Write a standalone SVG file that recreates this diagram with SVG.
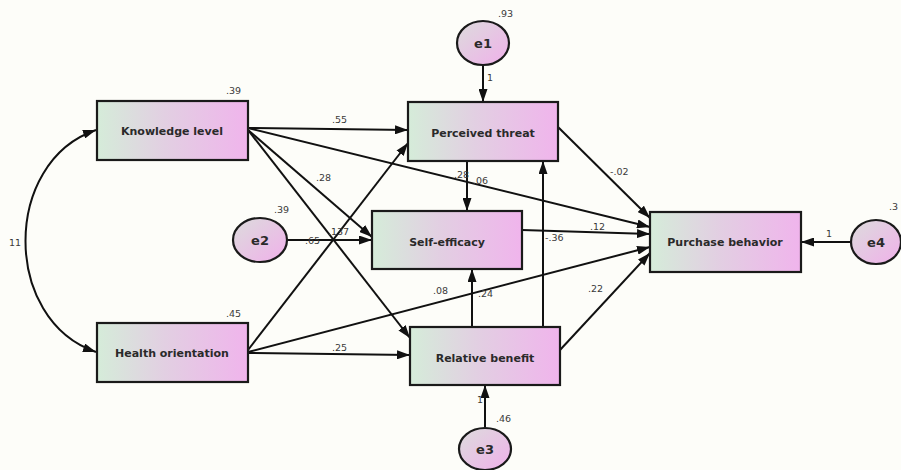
<svg xmlns="http://www.w3.org/2000/svg" width="901" height="470" viewBox="0 0 901 470">
<defs>
<linearGradient id="gBox" x1="0" y1="0" x2="1" y2="0">
<stop offset="0" stop-color="#d5ecd9"/>
<stop offset="0.45" stop-color="#e2cfe2"/>
<stop offset="1" stop-color="#f0b4ec"/>
</linearGradient>
<linearGradient id="gEll" x1="0" y1="0" x2="1" y2="1">
<stop offset="0" stop-color="#dcdcdc"/>
<stop offset="1" stop-color="#f0b0ea"/>
</linearGradient>
<marker id="ah" viewBox="0 0 13 9" refX="13" refY="4.5" markerWidth="13" markerHeight="9" markerUnits="userSpaceOnUse" orient="auto-start-reverse">
<path d="M0,0 L13,4.5 L0,9 Z" fill="#111"/>
</marker>
</defs>
<style>
.box{fill:url(#gBox);stroke:#1a1a1a;stroke-width:2.2}
.ell{fill:url(#gEll);stroke:#1a1a1a;stroke-width:2.2}
.nt{font-family:"DejaVu Sans",sans-serif;font-weight:bold;font-size:11px;fill:#2a2a2a;text-anchor:middle}
.et{font-family:"DejaVu Sans",sans-serif;font-weight:bold;font-size:13px;fill:#2a2a2a;text-anchor:middle}
.lb{font-family:"DejaVu Sans",sans-serif;font-size:9.5px;fill:#3a3a3a}
.c{fill:none;stroke:#111;stroke-width:2;marker-end:url(#ah)}
</style>
<rect width="901" height="470" fill="#fdfdf9"/>
<g id="connectors">
<path class="c" d="M96,130 C2,162 2,320 96,352" marker-start="url(#ah)"/>
<line class="c" x1="248" y1="128" x2="408" y2="130"/>
<line class="c" x1="248" y1="128" x2="650" y2="227"/>
<line class="c" x1="248" y1="130" x2="372" y2="237"/>
<line class="c" x1="248" y1="130" x2="410" y2="338"/>
<line class="c" x1="248" y1="350" x2="408" y2="143"/>
<line class="c" x1="248" y1="352" x2="650" y2="247"/>
<line class="c" x1="248" y1="353" x2="410" y2="355"/>
<line class="c" x1="287" y1="240" x2="372" y2="240"/>
<line class="c" x1="483" y1="65" x2="483" y2="102"/>
<line class="c" x1="467" y1="161" x2="467" y2="211"/>
<line class="c" x1="472" y1="327" x2="472" y2="269"/>
<line class="c" x1="543" y1="327" x2="543" y2="161"/>
<line class="c" x1="485" y1="427" x2="485" y2="385"/>
<line class="c" x1="558" y1="127" x2="650" y2="218"/>
<line class="c" x1="522" y1="230" x2="650" y2="234"/>
<line class="c" x1="560" y1="350" x2="650" y2="253"/>
<line class="c" x1="850" y1="242" x2="801" y2="242"/>
</g>
<g id="knowledge">
<rect class="box" x="97" y="101" width="151" height="59"/>
<text class="nt" x="172" y="135">Knowledge level</text>
<text class="lb" x="226" y="94">.39</text>
</g>
<g id="health">
<rect class="box" x="97" y="323" width="151" height="59"/>
<text class="nt" x="172" y="357">Health orientation</text>
<text class="lb" x="226" y="317">.45</text>
</g>
<g id="threat">
<rect class="box" x="408" y="102" width="150" height="59"/>
<text class="nt" x="483" y="137">Perceived threat</text>
</g>
<g id="efficacy">
<rect class="box" x="372" y="211" width="150" height="58"/>
<text class="nt" x="447" y="246">Self-efficacy</text>
</g>
<g id="benefit">
<rect class="box" x="410" y="327" width="150" height="58"/>
<text class="nt" x="485" y="362">Relative benefit</text>
</g>
<g id="purchase">
<rect class="box" x="650" y="212" width="151" height="60"/>
<text class="nt" x="725" y="246">Purchase behavior</text>
</g>
<g id="e1">
<ellipse class="ell" cx="483" cy="43" rx="26" ry="22"/>
<text class="et" x="483" y="48">e1</text>
<text class="lb" x="498" y="17">.93</text>
</g>
<g id="e2">
<ellipse class="ell" cx="260" cy="240" rx="27" ry="22"/>
<text class="et" x="260" y="245">e2</text>
<text class="lb" x="274" y="213">.39</text>
</g>
<g id="e3">
<ellipse class="ell" cx="485" cy="449" rx="26" ry="21"/>
<text class="et" x="485" y="454">e3</text>
<text class="lb" x="496" y="422">.46</text>
</g>
<g id="e4">
<ellipse class="ell" cx="876" cy="242" rx="25" ry="22"/>
<text class="et" x="876" y="247">e4</text>
<text class="lb" x="889" y="210">.3</text>
</g>
<g id="labels">
<text class="lb" x="9" y="246">11</text>
<text class="lb" x="332" y="123">.55</text>
<text class="lb" x="316" y="181">.28</text>
<text class="lb" x="454" y="178">.28</text>
<text class="lb" x="473" y="184">.06</text>
<text class="lb" x="305" y="244">.65</text>
<text class="lb" x="328" y="235">.137</text>
<text class="lb" x="545" y="241">-.36</text>
<text class="lb" x="590" y="230">.12</text>
<text class="lb" x="610" y="175">-.02</text>
<text class="lb" x="433" y="294">.08</text>
<text class="lb" x="478" y="297">.24</text>
<text class="lb" x="588" y="292">.22</text>
<text class="lb" x="332" y="351">.25</text>
<text class="lb" x="477" y="403">1</text>
<text class="lb" x="487" y="81">1</text>
<text class="lb" x="826" y="237">1</text>
</g>
</svg>
